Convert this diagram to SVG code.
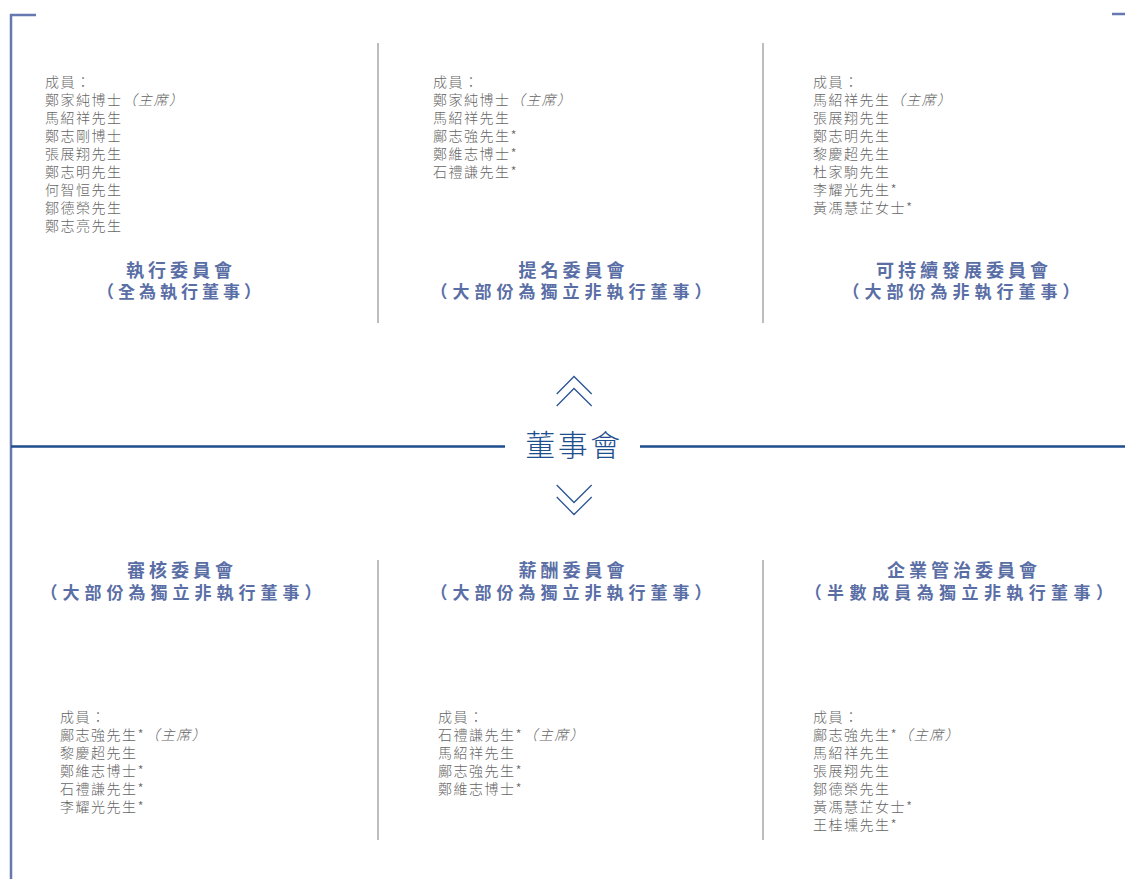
<svg xmlns="http://www.w3.org/2000/svg" width="1125" height="879" viewBox="0 0 1125 879">
<style>
.m{font-family:"Noto Sans CJK TC","Noto Sans CJK SC",sans-serif;font-size:14px;letter-spacing:1.5px;fill:#666666;font-weight:300}
.it{font-style:italic}
.t1{font-family:"Noto Sans CJK TC","Noto Sans CJK SC",sans-serif;font-size:18px;font-weight:700;letter-spacing:4px;fill:#5a6ea6;text-anchor:middle}
.t2{font-family:"Noto Sans CJK TC","Noto Sans CJK SC",sans-serif;font-size:17px;font-weight:700;letter-spacing:5px;fill:#5a6ea6;text-anchor:middle}
.div{stroke:#9a9a9a;stroke-width:1.3;fill:none}
.frame{stroke:#6678b0;stroke-width:2.5;fill:none}
.main{stroke:#1f4e8f;stroke-width:2.5;fill:none}
.chev{stroke:#2b5591;stroke-width:1.3;fill:none}
.board{font-family:"Noto Sans CJK TC","Noto Sans CJK SC",sans-serif;font-size:30px;font-weight:300;letter-spacing:2.5px;fill:#1f4e8f;text-anchor:middle}
</style>
<rect width="1125" height="879" fill="#ffffff"/>
<g id="frame">
<path class="frame" d="M11,879 V15 H36"/>
<path class="frame" d="M1112,14 H1125"/>
<path class="div" d="M378,43 V323 M763,43 V323 M378,560 V840 M763,560 V840"/>
</g>
<g id="connectors">
<path class="main" d="M11,446.5 H505 M640,446.5 H1125"/>
<path class="chev" d="M556.7,394 L574,376.5 L591.7,394 M556.7,406 L574,388.5 L591.7,406"/>
<path class="chev" d="M556.7,485 L574,502.5 L591.7,485 M556.7,497 L574,514.5 L591.7,497"/>
</g>
<g id="board">
<text class="board" x="574" y="456">董事會</text>
</g>
<g id="executive">
<text class="m" x="45" y="87">成員：</text>
<text class="m" x="45" y="105">鄭家純博士<tspan class="it">（主席）</tspan></text>
<text class="m" x="45" y="123">馬紹祥先生</text>
<text class="m" x="45" y="141">鄭志剛博士</text>
<text class="m" x="45" y="159">張展翔先生</text>
<text class="m" x="45" y="177">鄭志明先生</text>
<text class="m" x="45" y="195">何智恒先生</text>
<text class="m" x="45" y="213">鄒德榮先生</text>
<text class="m" x="45" y="231">鄭志亮先生</text>
<text class="t1" x="181" y="277">執行委員會</text>
<text class="t2" x="181" y="298" style="letter-spacing:4px">（全為執行董事）</text>
</g>
<g id="nomination">
<text class="m" x="433" y="87">成員：</text>
<text class="m" x="433" y="105">鄭家純博士<tspan class="it">（主席）</tspan></text>
<text class="m" x="433" y="123">馬紹祥先生</text>
<text class="m" x="433" y="141">鄺志強先生*</text>
<text class="m" x="433" y="159">鄭維志博士*</text>
<text class="m" x="433" y="177">石禮謙先生*</text>
<text class="t1" x="573.5" y="277">提名委員會</text>
<text class="t2" x="573.5" y="298">（大部份為獨立非執行董事）</text>
</g>
<g id="sustainability">
<text class="m" x="813" y="87">成員：</text>
<text class="m" x="813" y="105">馬紹祥先生<tspan class="it">（主席）</tspan></text>
<text class="m" x="813" y="123">張展翔先生</text>
<text class="m" x="813" y="141">鄭志明先生</text>
<text class="m" x="813" y="159">黎慶超先生</text>
<text class="m" x="813" y="177">杜家駒先生</text>
<text class="m" x="813" y="195">李耀光先生*</text>
<text class="m" x="813" y="213">黃馮慧芷女士*</text>
<text class="t1" x="964" y="277">可持續發展委員會</text>
<text class="t2" x="963.5" y="298">（大部份為非執行董事）</text>
</g>
<g id="audit">
<text class="t1" x="182" y="577">審核委員會</text>
<text class="t2" x="183.5" y="599">（大部份為獨立非執行董事）</text>
<text class="m" x="60" y="722">成員：</text>
<text class="m" x="60" y="740">鄺志強先生*<tspan class="it">（主席）</tspan></text>
<text class="m" x="60" y="758">黎慶超先生</text>
<text class="m" x="60" y="776">鄭維志博士*</text>
<text class="m" x="60" y="794">石禮謙先生*</text>
<text class="m" x="60" y="812">李耀光先生*</text>
</g>
<g id="remuneration">
<text class="t1" x="573.5" y="577">薪酬委員會</text>
<text class="t2" x="573.5" y="599">（大部份為獨立非執行董事）</text>
<text class="m" x="438" y="722">成員：</text>
<text class="m" x="438" y="740">石禮謙先生*<tspan class="it">（主席）</tspan></text>
<text class="m" x="438" y="758">馬紹祥先生</text>
<text class="m" x="438" y="776">鄺志強先生*</text>
<text class="m" x="438" y="794">鄭維志博士*</text>
</g>
<g id="governance">
<text class="t1" x="964" y="577">企業管治委員會</text>
<text class="t2" x="961.5" y="599" style="letter-spacing:5.4px">（半數成員為獨立非執行董事）</text>
<text class="m" x="813" y="722">成員：</text>
<text class="m" x="813" y="740">鄺志強先生*<tspan class="it">（主席）</tspan></text>
<text class="m" x="813" y="758">馬紹祥先生</text>
<text class="m" x="813" y="776">張展翔先生</text>
<text class="m" x="813" y="794">鄒德榮先生</text>
<text class="m" x="813" y="812">黃馮慧芷女士*</text>
<text class="m" x="813" y="830">王桂壎先生*</text>
</g>
</svg>
